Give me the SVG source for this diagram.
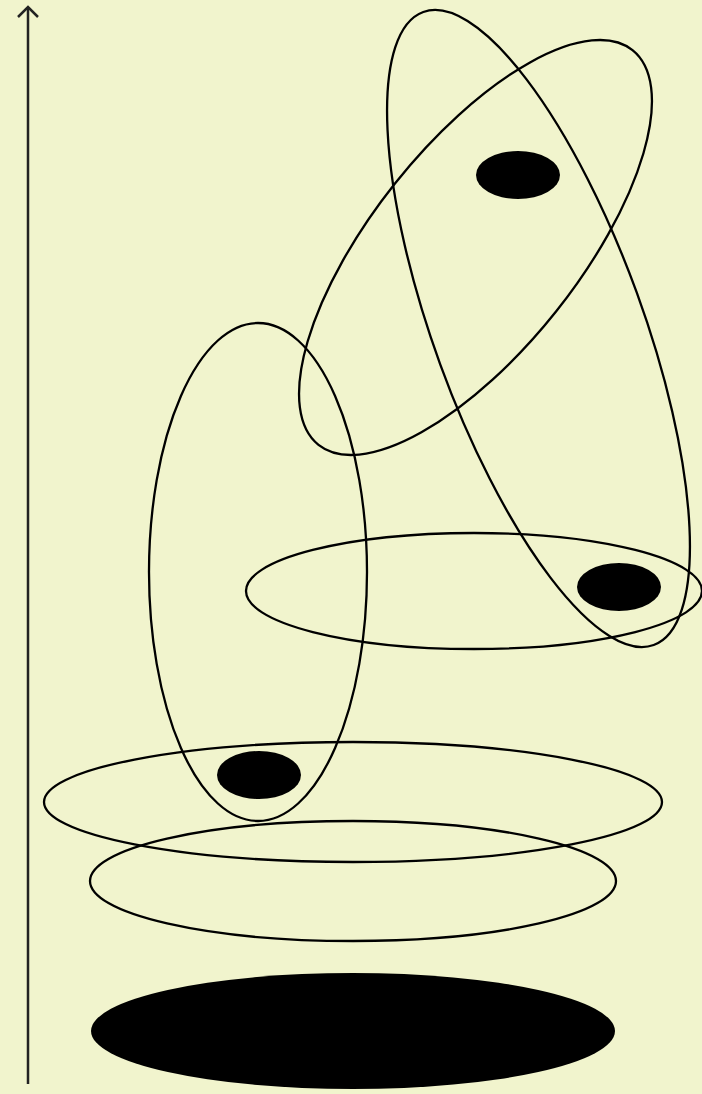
<svg xmlns="http://www.w3.org/2000/svg" width="702" height="1094" viewBox="0 0 702 1094">
<style>
.o{fill:none;stroke:#000;stroke-width:2.3}
.f{fill:#000;stroke:none}
.ax{fill:none;stroke:#222;stroke-width:2.5}
</style>
<rect width="702" height="1094" fill="#f1f4cd"/>
<g id="axis">
<path class="ax" d="M28,1084 V7"/>
<path class="ax" d="M18,17 L28,7 L38,17"/>
</g>
<g id="base"><ellipse class="f" cx="353" cy="1031" rx="262" ry="58"/></g>
<g id="ring1"><ellipse class="o" cx="353" cy="881" rx="263" ry="60"/></g>
<g id="ring2"><ellipse class="o" cx="353" cy="802" rx="309" ry="60"/></g>
<g id="dot1"><ellipse class="f" cx="259" cy="775" rx="42" ry="24"/></g>
<g id="vert"><ellipse class="o" cx="258" cy="572" rx="109" ry="249"/></g>
<g id="horiz"><ellipse class="o" cx="474" cy="591" rx="228" ry="58"/></g>
<g id="dot2"><ellipse class="f" cx="619" cy="587" rx="42" ry="24"/></g>
<g id="tilt1"><ellipse class="o" cx="538.5" cy="328.5" rx="104.6" ry="336.8" transform="rotate(-20 538.5 328.5)"/></g>
<g id="tilt2"><ellipse class="o" cx="475.5" cy="247.5" rx="102.9" ry="252.2" transform="rotate(38.5 475.5 247.5)"/></g>
<g id="dot3"><ellipse class="f" cx="518" cy="175" rx="42" ry="24"/></g>
</svg>
